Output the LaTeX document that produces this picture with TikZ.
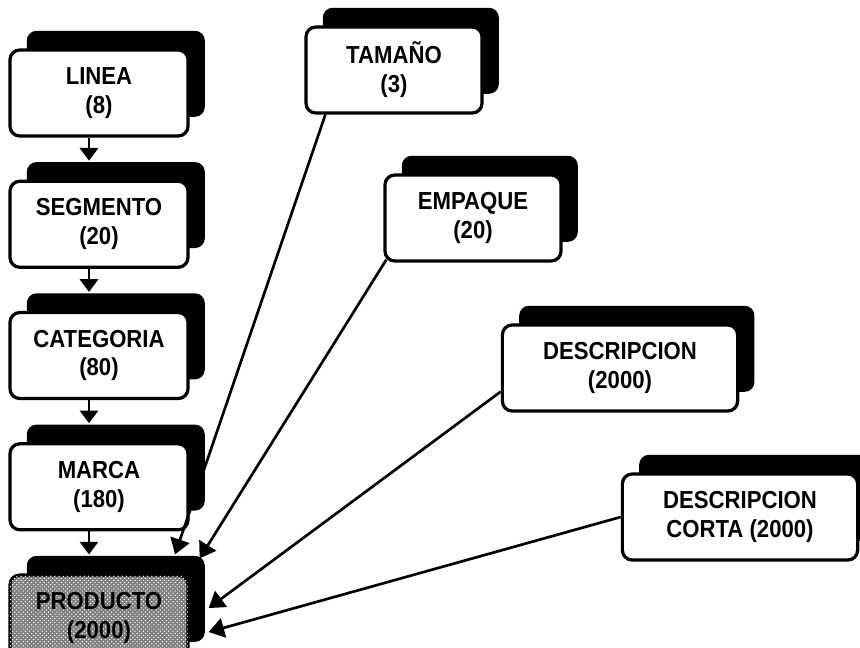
\documentclass[tikz,border=0pt]{standalone}
\usepackage{fontspec}
\setmainfont{Liberation Sans}[FakeStretch=0.9]
\usetikzlibrary{positioning,shadows,arrows.meta,patterns}

\tikzset{
  caja/.style={draw, line width=2.3pt, rounded corners=7pt, fill=white,
    align=center, minimum width=4.45cm, minimum height=2.15cm, inner sep=2pt,
    font=\bfseries\fontsize{17.5}{20.5}\selectfont,
    drop shadow={shadow xshift=0.42cm, shadow yshift=0.48cm, fill=black, opacity=1}},
  ancha/.style={caja, minimum width=5.88cm},
  flecha/.style={line width=1.6pt, -{Triangle[length=9pt,width=13pt]}},
  enlace/.style={flecha, line width=1.9pt, -{Triangle[length=11pt,width=14pt]}}
}

\begin{document}
\begin{tikzpicture}[x=0.025cm, y=-0.025cm]
  \useasboundingbox (0,0) rectangle (860,648);
  % jerarquia del producto
  \node[caja] (linea) at (99,93) {LINEA\\(8)};
  \node[caja, below=1.05cm of linea] (segmento) {SEGMENTO\\(20)};
  \node[caja, below=1.05cm of segmento] (categoria) {CATEGORIA\\(80)};
  \node[caja, below=1.05cm of categoria] (marca) {MARCA\\(180)};
  \node[caja, below=1.05cm of marca, fill=black!50,
        postaction={pattern=crosshatch dots, pattern color=white}] (producto) {PRODUCTO\\(2000)};
  % atributos
  \node[caja, minimum width=4.4cm] (tamano) at (394,70) {TAMAÑO\\(3)};
  \node[caja, minimum width=4.4cm] (empaque) at (473,218) {EMPAQUE\\(20)};
  \node[ancha] (descripcion) at (620,368) {DESCRIPCION\\(2000)};
  \node[ancha] (corta) at (740,517) {DESCRIPCION\\CORTA (2000)};

  \foreach \a/\b in {linea/segmento, segmento/categoria, categoria/marca, marca/producto}{
    \draw[flecha] ([shift={(-10,0)}]\a.south) -- ([shift={(-10,-19)}]\b.north);
  }
  \draw[enlace] ([shift={(21,0)}]tamano.south west) -- ([shift={(76,-19)}]producto.north);
  \draw[enlace] ([shift={(3,-3)}]empaque.south west) -- ([shift={(10,-15)}]producto.north east);
  \draw[enlace] ([shift={(0,-21)}]descripcion.south west) -- ([shift={(19,-10)}]producto.east);
  \draw[enlace] (corta.west) -- ([shift={(19,14)}]producto.east);
\end{tikzpicture}
\end{document}
